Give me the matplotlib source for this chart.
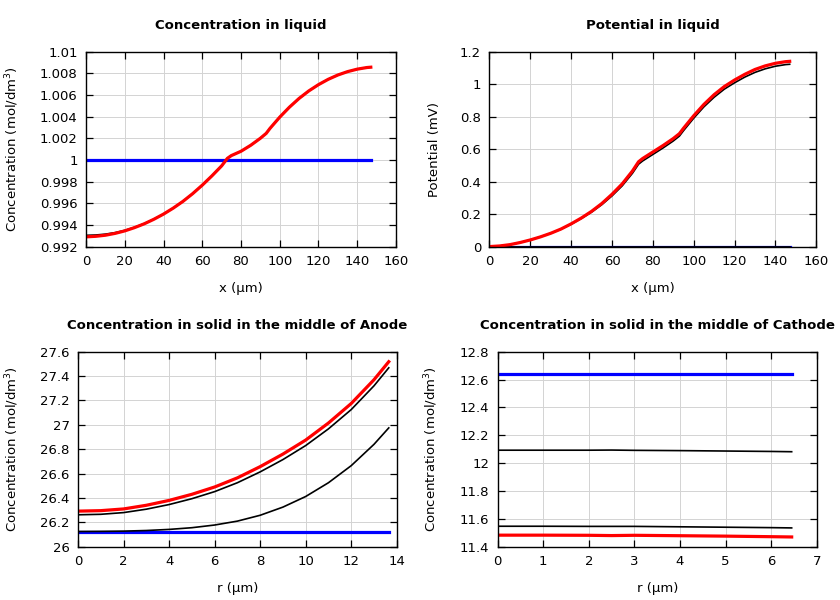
import numpy as np
import matplotlib
matplotlib.use("Agg")
import matplotlib.pyplot as plt
from matplotlib.ticker import FuncFormatter, MultipleLocator

# Concentration in liquid (x in um)
x_liq = [0, 5, 10, 15, 20, 25, 30, 35, 40, 45, 50, 55, 60, 65, 70, 73, 75, 80, 85, 90, 93,
         95, 100, 105, 110, 115, 120, 125, 130, 135, 140, 145, 147]
c_liq_red = [0.99290, 0.99295, 0.99305, 0.99322, 0.99345, 0.99375, 0.99410, 0.99452, 0.99500,
             0.99555, 0.99617, 0.99688, 0.99767, 0.99853, 0.99945, 1.00015, 1.00040, 1.00080,
             1.00135, 1.00200, 1.00245, 1.00292, 1.00395, 1.00487, 1.00568, 1.00637, 1.00695,
             1.00744, 1.00784, 1.00815, 1.00838, 1.00853, 1.00856]
c_liq_black = [0.99304, 0.99307, 0.99315, 0.99329, 0.99350, 0.99378, 0.99412, 0.99453, 0.99500,
               0.99555, 0.99617, 0.99688, 0.99767, 0.99853, 0.99945, 1.00015, 1.00040, 1.00080,
               1.00135, 1.00200, 1.00245, 1.00292, 1.00395, 1.00487, 1.00568, 1.00637, 1.00695,
               1.00744, 1.00784, 1.00815, 1.00838, 1.00853, 1.00856]
c_liq_blue = [1.0] * len(x_liq)

# Potential in liquid (mV)
p_red = [0.000, 0.004, 0.012, 0.025, 0.041, 0.060, 0.082, 0.108, 0.140, 0.176, 0.217, 0.265,
         0.322, 0.386, 0.465, 0.522, 0.542, 0.582, 0.622, 0.665, 0.695, 0.728, 0.805, 0.875,
         0.935, 0.985, 1.025, 1.060, 1.090, 1.112, 1.128, 1.138, 1.140]
p_black = [0.000, 0.004, 0.012, 0.025, 0.041, 0.060, 0.082, 0.107, 0.138, 0.173, 0.212, 0.258,
           0.312, 0.374, 0.451, 0.507, 0.527, 0.567, 0.607, 0.650, 0.680, 0.713, 0.790, 0.860,
           0.919, 0.969, 1.008, 1.043, 1.072, 1.094, 1.110, 1.120, 1.122]
p_zero = [0.0] * len(x_liq)

# Solid concentration, anode (r in um)
r_an = [0, 1, 2, 3, 4, 5, 6, 7, 8, 9, 10, 11, 12, 13, 13.65]
an_red = [26.292, 26.296, 26.310, 26.340, 26.380, 26.430, 26.490, 26.565, 26.657, 26.760,
          26.875, 27.015, 27.175, 27.370, 27.518]
an_black1 = [26.262, 26.266, 26.280, 26.308, 26.346, 26.394, 26.452, 26.525, 26.614, 26.715,
             26.830, 26.967, 27.125, 27.320, 27.468]
an_black2 = [26.125, 26.126, 26.128, 26.133, 26.142, 26.156, 26.178, 26.210, 26.258, 26.325,
             26.412, 26.525, 26.665, 26.840, 26.975]
an_blue = [26.123] * len(r_an)

# Solid concentration, cathode
r_ca = [0, 1, 2, 2.5, 3, 4, 5, 6, 6.45]
ca_blue = [12.637] * len(r_ca)
ca_black1 = [12.093, 12.093, 12.093, 12.094, 12.092, 12.090, 12.087, 12.084, 12.082]
ca_black2 = [11.547, 11.547, 11.546, 11.546, 11.546, 11.543, 11.540, 11.537, 11.535]
ca_red = [11.483, 11.483, 11.482, 11.480, 11.482, 11.479, 11.476, 11.472, 11.470]

plt.rcParams["font.family"] = "DejaVu Sans"
plt.rcParams["font.size"] = 9.5

fmt = FuncFormatter(lambda v, p: "%g" % round(v, 6))


def style(ax, title, xlabel, ylabel, xlim, ylim, xstep, ystep):
    ax.set_title(title, fontsize=9.5, fontweight="bold", pad=16)
    ax.set_xlabel(xlabel, labelpad=10)
    ax.set_ylabel(ylabel)
    ax.set_xlim(*xlim)
    ax.set_ylim(*ylim)
    ax.xaxis.set_major_locator(MultipleLocator(xstep))
    ax.yaxis.set_major_locator(MultipleLocator(ystep))
    ax.xaxis.set_major_formatter(fmt)
    ax.yaxis.set_major_formatter(fmt)
    ax.tick_params(direction="in", top=True, right=True, length=5, width=0.9, labelsize=9.5, pad=6)
    ax.grid(True, color="#d3d3d3", linewidth=0.7)
    ax.set_axisbelow(True)
    for s in ax.spines.values():
        s.set_linewidth(1.0)


fig = plt.figure(figsize=(8.4, 6.0), dpi=100)
ax1 = fig.add_axes([0.1024, 0.589, 0.369, 0.325])
ax2 = fig.add_axes([0.5827, 0.589, 0.389, 0.325])
ax3 = fig.add_axes([0.0929, 0.0888, 0.3794, 0.325])
ax4 = fig.add_axes([0.5925, 0.0888, 0.3798, 0.325])

ax1.plot(x_liq, c_liq_blue, color="#0000ff", lw=2.3)
ax1.plot(x_liq, c_liq_black, color="black", lw=1.2)
ax1.plot(x_liq, c_liq_red, color="#ff0000", lw=2.3)
style(ax1, "Concentration in liquid", "x (µm)", "Concentration (mol/dm$^3$)",
      (0, 160), (0.992, 1.01), 20, 0.002)

ax2.plot(x_liq, p_zero, color="#0000ff", lw=2.3)
ax2.plot(x_liq, p_zero, color="black", lw=1.2)
ax2.plot(x_liq, p_black, color="black", lw=1.2)
ax2.plot(x_liq, p_red, color="#ff0000", lw=2.3)
style(ax2, "Potential in liquid", "x (µm)", "Potential (mV)",
      (0, 160), (0, 1.2), 20, 0.2)

ax3.plot(r_an, an_blue, color="#0000ff", lw=2.3)
ax3.plot(r_an, an_black2, color="black", lw=1.2)
ax3.plot(r_an, an_black1, color="black", lw=1.2)
ax3.plot(r_an, an_red, color="#ff0000", lw=2.3)
style(ax3, "Concentration in solid in the middle of Anode", "r (µm)", "Concentration (mol/dm$^3$)",
      (0, 14), (26, 27.6), 2, 0.2)

ax4.plot(r_ca, ca_blue, color="#0000ff", lw=2.3)
ax4.plot(r_ca, ca_black1, color="black", lw=1.2)
ax4.plot(r_ca, ca_black2, color="black", lw=1.2)
ax4.plot(r_ca, ca_red, color="#ff0000", lw=2.3)
style(ax4, "Concentration in solid in the middle of Cathode", "r (µm)", "Concentration (mol/dm$^3$)",
      (0, 7), (11.4, 12.8), 1, 0.2)

# y label anchor = right edge of the rotated text, in pixels from the left
ax1.yaxis.set_label_coords((20.5 - 86) / 310, 0.5)
ax2.yaxis.set_label_coords((440.5 - 489.5) / 327, 0.5)
ax3.yaxis.set_label_coords((20.5 - 78) / 318.7, 0.5)
ax4.yaxis.set_label_coords((440.5 - 497.7) / 319, 0.5)

fig.savefig("out.png", dpi=100)
